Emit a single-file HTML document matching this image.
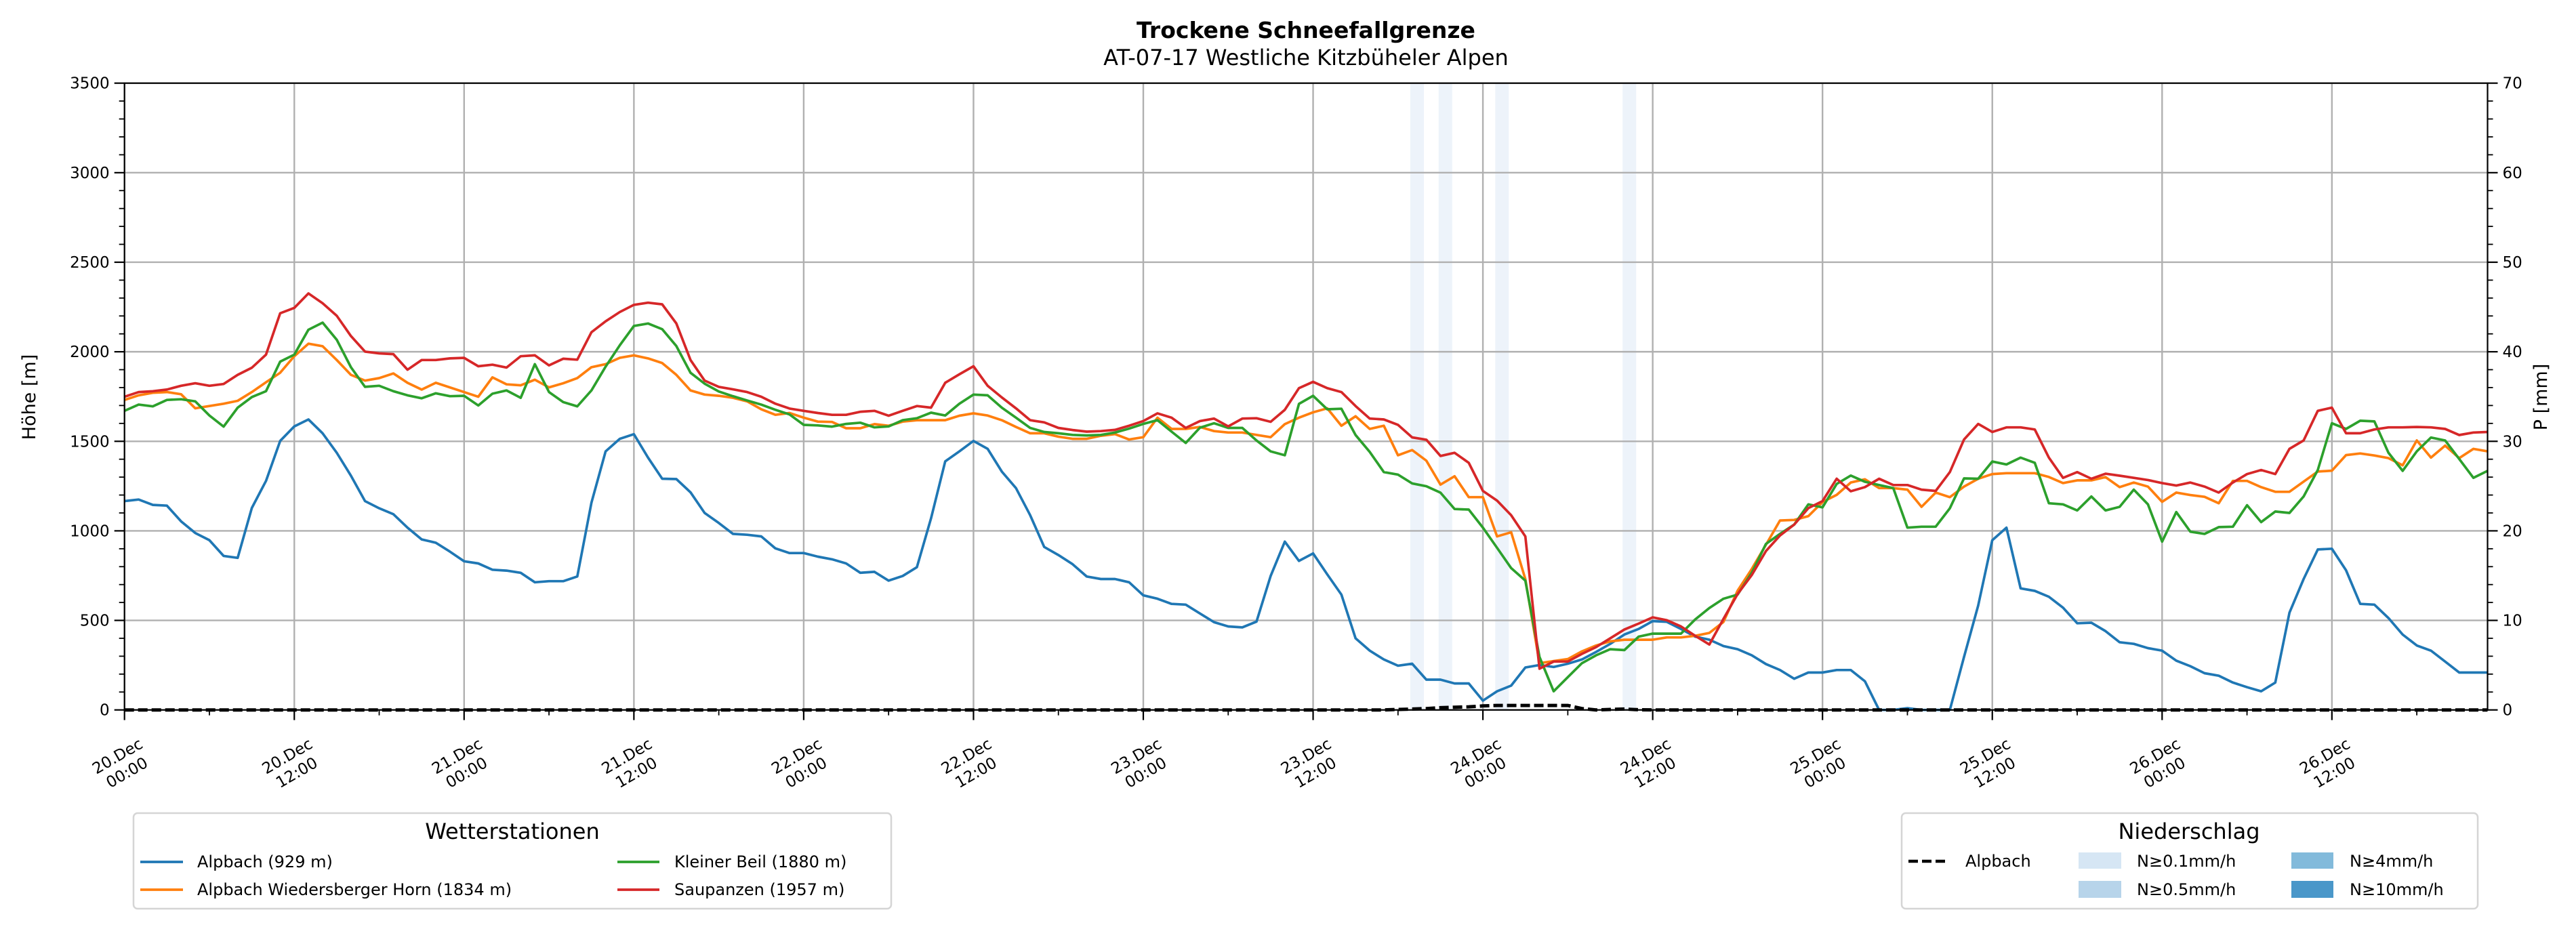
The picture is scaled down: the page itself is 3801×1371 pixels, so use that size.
<!DOCTYPE html>
<html><head><meta charset="utf-8">
<style>
html,body{margin:0;padding:0;background:#fff;}
svg{display:block;font-family:"DejaVu Sans","Liberation Sans",sans-serif;}
</style></head>
<body>
<svg id="chart" width="3801" height="1371" viewBox="0 0 3801 1371" xmlns="http://www.w3.org/2000/svg">
<rect x="0" y="0" width="3801" height="1371" fill="#fff"/>
<text x="1927" y="56" text-anchor="middle" font-size="33" font-weight="bold">Trockene Schneefallgrenze</text>
<text x="1927" y="96" text-anchor="middle" font-size="32">AT-07-17 Westliche Kitzbüheler Alpen</text>
<g id="bands"></g>
<g id="grid"></g>
<g id="series"></g>
<g id="axes"></g>
<text transform="translate(52,586) rotate(-90)" text-anchor="middle" font-size="27">Höhe [m]</text>
<text transform="translate(3758,586) rotate(-90)" text-anchor="middle" font-size="27">P [mm]</text>

<g>
<rect x="197" y="1200" width="1118" height="141" rx="6" fill="#fff" stroke="#d5d5d5" stroke-width="2.5"/>
<text x="756" y="1238" text-anchor="middle" font-size="32">Wetterstationen</text>
<g><line x1="207" y1="1272" x2="270" y2="1272" stroke="#1f77b4" stroke-width="3.7"/><text x="291" y="1280" font-size="24">Alpbach (929 m)</text></g>
<g><line x1="207" y1="1313" x2="270" y2="1313" stroke="#ff7f0e" stroke-width="3.7"/><text x="291" y="1321" font-size="24">Alpbach Wiedersberger Horn (1834 m)</text></g>
<g><line x1="911" y1="1272" x2="973" y2="1272" stroke="#2ca02c" stroke-width="3.7"/><text x="995" y="1280" font-size="24">Kleiner Beil (1880 m)</text></g>
<g><line x1="911" y1="1313" x2="973" y2="1313" stroke="#d62728" stroke-width="3.7"/><text x="995" y="1321" font-size="24">Saupanzen (1957 m)</text></g>
</g>

<g>
<rect x="2806" y="1200" width="850" height="141" rx="6" fill="#fff" stroke="#d5d5d5" stroke-width="2.5"/>
<text x="3230" y="1238" text-anchor="middle" font-size="32">Niederschlag</text>
<g><line x1="2816" y1="1271" x2="2874" y2="1271" stroke="#000" stroke-width="4.5" stroke-dasharray="14,6"/><text x="2900" y="1279" font-size="24">Alpbach</text></g>
<g><rect x="3067" y="1258" width="63" height="24" fill="#d6e6f4"/><text x="3153" y="1279" font-size="24">N≥0.1mm/h</text></g>
<g><rect x="3067" y="1300" width="63" height="25" fill="#b7d4ea"/><text x="3153" y="1321" font-size="24">N≥0.5mm/h</text></g>
<g><rect x="3381" y="1258" width="62" height="24" fill="#82badb"/><text x="3467" y="1279" font-size="24">N≥4mm/h</text></g>
<g><rect x="3381" y="1300" width="62" height="25" fill="#4a97c9"/><text x="3467" y="1321" font-size="24">N≥10mm/h</text></g>
</g>
</svg>
<script>
// ---- data (hourly, from 20.Dec 00:00) ----
const alpbach = [1166,1175,1145,1141,1053,988,948,860,849,1128,1279,1502,1583,1622,1545,1436,1308,1166,1126,1093,1018,952,934,884,830,818,783,778,766,713,719,719,745,1157,1444,1514,1540,1409,1291,1289,1215,1100,1044,983,
978,969,902,876,876,856,841,818,766,771,722,748,797,1070,1388,1444,1502,1458,1331,1239,1088,910,865,814,745,731,731,713,640,621,592,588,539,490,466,461,493,748,940,832,874,757,
644,400,331,282,247,258,169,169,148,148,52,104,136,237,251,240,258,282,324,369,421,452,496,492,452,409,392,357,339,305,256,223,174,209,209,223,223,160,
0,0,10,0,0,
0,296,583,948,1018,679,665,632,571,484,487,440,378,369,345,331,275,244,205,191,153,127,104,153,543,731,896,900,780,592,588,513,421,360,331,270,209,209,209];
const wiedersberger = [1731,1757,1771,1775,1763,1684,1697,1710,1726,1775,1830,1883,1975,2045,2031,1954,1871,1839,1853,1879,1827,1789,1827,1801,1775,1749,1857,1818,1813,1844,1801,1824,1853,1914,1931,1966,1980,1963,1937,1871,1784,1761,1754,1743,
1723,1679,1648,1658,1632,1610,1608,1573,1573,1596,1587,1610,1618,1618,1618,1643,1656,1644,1618,1580,1545,1545,1526,1514,1514,1531,1540,1510,1523,1632,1569,1569,1580,1557,1549,1549,1536,1523,1596,1632,1662,1684,
1587,1640,1569,1587,1422,1451,1392,1258,1305,1188,1188,969,992,731,261,273,284,327,360,383,392,392,392,405,405,414,430,491,666,787,922,1058,1061,1082,1161,1201,1270,1288,1239,1239,
1230,1134,1214,1188,1247,1291,1317,1322,1322,1322,1301,1267,1282,1282,1300,1244,1270,1247,1162,1214,1200,1190,1154,1279,1279,1244,1218,1218,1275,1331,1336,1423,1432,1421,1406,1366,1505,1409,1476,1406,1458,1444];
const kleinerBeil = [1670,1705,1695,1731,1735,1723,1644,1582,1688,1747,1780,1945,1984,2123,2163,2067,1914,1804,1810,1780,1757,1740,1768,1752,1754,1700,1766,1784,1743,1931,1775,1719,1695,1784,1917,2036,2144,2158,2126,2032,1883,1822,1778,1752,
1728,1705,1676,1650,1592,1589,1582,1597,1604,1578,1583,1618,1629,1660,1644,1710,1761,1757,1688,1632,1575,1552,1545,1536,1533,1536,1549,1571,1597,1618,1554,1491,1576,1601,1575,1575,1505,1444,1422,1709,1754,1679,
1682,1535,1441,1328,1314,1265,1249,1213,1122,1119,1018,905,792,722,296,104,183,261,305,339,334,409,426,426,426,505,569,621,644,766,927,983,1035,1148,1131,1262,1309,1274,1256,1239,
1018,1023,1023,1126,1293,1291,1387,1371,1409,1380,1154,1148,1114,1192,1114,1134,1230,1148,940,1105,995,983,1021,1023,1143,1049,1108,1100,1192,1340,1601,1569,1615,1611,1436,1335,1444,1521,1505,1401,1296,1335];
const saupanzen = [1749,1775,1780,1789,1810,1824,1810,1820,1871,1911,1984,2215,2245,2326,2271,2201,2088,2001,1991,1987,1900,1954,1954,1963,1966,1919,1928,1912,1975,1980,1924,1961,1956,2109,2170,2222,2262,2274,2265,2158,1954,1839,1804,1790,
1775,1749,1710,1683,1670,1658,1648,1648,1665,1670,1643,1670,1697,1688,1827,1874,1919,1810,1745,1684,1618,1606,1575,1563,1554,1557,1564,1587,1613,1656,1632,1575,1613,1627,1583,1627,1629,1609,1676,1797,1832,1797,
1775,1697,1627,1622,1592,1522,1509,1418,1436,1380,1223,1169,1087,969,230,270,270,313,351,400,449,482,517,501,466,414,365,508,647,753,887,974,1035,1127,1166,1291,1221,1244,1291,1256,
1256,1230,1223,1328,1510,1597,1552,1578,1578,1566,1409,1296,1328,1291,1319,1308,1296,1284,1267,1253,1270,1247,1214,1270,1317,1340,1317,1458,1505,1670,1688,1545,1545,1566,1578,1578,1580,1578,1569,1535,1549,1552];
const precipHours = [90,91,92,93,94,95,96,97,98,99,100,101,102,103,105,106,107];
const precipValues = [0.05,0.1,0.15,0.25,0.3,0.35,0.45,0.5,0.5,0.5,0.5,0.5,0.5,0.15,0.05,0.1,0.02];
const bandHours = [91,93,97,106];
const xTickHours = [0,12,24,36,48,60,72,84,96,108,120,132,144,156];
const xTickLabels = [["20.Dec","00:00"],["20.Dec","12:00"],["21.Dec","00:00"],["21.Dec","12:00"],["22.Dec","00:00"],["22.Dec","12:00"],["23.Dec","00:00"],["23.Dec","12:00"],["24.Dec","00:00"],["24.Dec","12:00"],["25.Dec","00:00"],["25.Dec","12:00"],["26.Dec","00:00"],["26.Dec","12:00"]];
const yTicks = [0,500,1000,1500,2000,2500,3000,3500];
const y2Ticks = [0,10,20,30,40,50,60,70];

// ---- scales ----
const L=183.7, R=3670.5, T=122.7, B=1047.7, HOURS=167;
const xs = h => L + h*(R-L)/HOURS;
const ys = v => B - v*(B-T)/3500;
const y2s = p => B - p*(B-T)/70;
const NS="http://www.w3.org/2000/svg";
function mk(tag, attrs, parent){const e=document.createElementNS(NS,tag);for(const k in attrs)e.setAttribute(k,attrs[k]);parent.appendChild(e);return e;}

const bands=document.getElementById('bands');
bandHours.forEach(h=>{
  const r=mk('rect',{x:xs(h-0.13),y:T,width:xs(0.96)-L,height:B-T,fill:'#dbe8f6','fill-opacity':0.5},bands);
  
  
});

const grid=document.getElementById('grid');
xTickHours.forEach(h=>{ const l=mk('line',{x1:xs(h),x2:xs(h),y1:T,y2:B,stroke:'#b0b0b0','stroke-width':2.4},grid);
  
   });
yTicks.forEach(v=>{ const l=mk('line',{x1:L,x2:R,y1:ys(v),y2:ys(v),stroke:'#b0b0b0','stroke-width':2.4},grid);
  
   });

const series=document.getElementById('series');
const defs=[[alpbach,'#1f77b4','alpbach-line'],[wiedersberger,'#ff7f0e','wiedersberger-horn-line'],[kleinerBeil,'#2ca02c','kleiner-beil-line'],[saupanzen,'#d62728','saupanzen-line']];
defs.forEach(([arr,col,name])=>{
  const d=arr.map((v,i)=>(i?'L':'M')+xs(i).toFixed(1)+','+ys(v).toFixed(1)).join('');
  const p=mk('path',{d:d,fill:'none',stroke:col,'stroke-width':3.7,'stroke-linejoin':'round'},series);
  
  
});
// precipitation (right axis)
const pr=new Array(HOURS+1).fill(0);
precipHours.forEach((h,i)=>{pr[h]=precipValues[i];});
const pd=pr.map((v,i)=>(i?'L':'M')+xs(i).toFixed(1)+','+y2s(v).toFixed(1)).join('');
const pp=mk('path',{d:pd,fill:'none',stroke:'#000','stroke-width':5,'stroke-dasharray':'14,6'},series);



const axes=document.getElementById('axes');
const frame=mk('rect',{x:L,y:T,width:R-L,height:B-T,fill:'none',stroke:'#000','stroke-width':2.2},axes);


// left ticks
for(let v=0;v<=3500;v+=100){const major=v%500===0;mk('line',{x1:L-(major?15:8),x2:L,y1:ys(v),y2:ys(v),stroke:'#000','stroke-width':major?2.2:1.8},axes);}
yTicks.forEach(v=>{const t=mk('text',{x:L-22,y:ys(v)+8,'text-anchor':'end','font-size':23},axes);t.textContent=v;
  
  });
// right ticks
for(let p=0;p<=70;p+=2){const major=p%10===0;mk('line',{x1:R,x2:R+(major?15:8),y1:y2s(p),y2:y2s(p),stroke:'#000','stroke-width':major?2.2:1.8},axes);}
y2Ticks.forEach(p=>{const t=mk('text',{x:R+22,y:y2s(p)+8,'text-anchor':'start','font-size':23},axes);t.textContent=p;
  
  });
// x ticks
for(let h=0;h<=HOURS;h+=6){const major=h%12===0;mk('line',{x1:xs(h),x2:xs(h),y1:B,y2:B+(major?15:8),stroke:'#000','stroke-width':major?2.2:1.8},axes);}
xTickHours.forEach((h,i)=>{
  const g=mk('g',{transform:'translate('+(xs(h)-4).toFixed(1)+',1127) rotate(-30)'},axes);
  
  
  const a=mk('text',{x:0,y:-5,'text-anchor':'middle','font-size':23},g);a.textContent=xTickLabels[i][0];
  const b=mk('text',{x:0,y:23,'text-anchor':'middle','font-size':23},g);b.textContent=xTickLabels[i][1];
});
</script>
</body></html>
